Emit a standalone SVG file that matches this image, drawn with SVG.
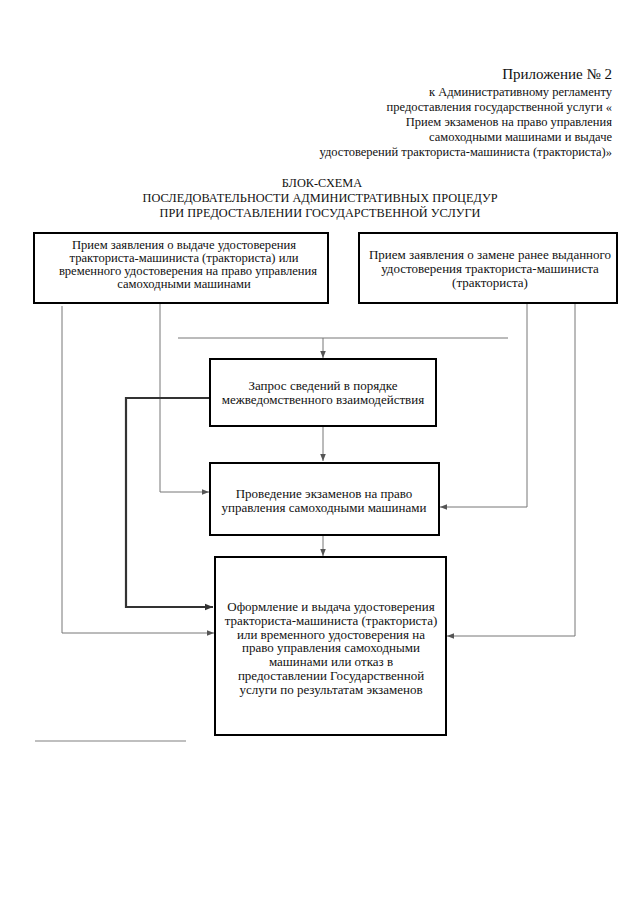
<svg xmlns="http://www.w3.org/2000/svg" width="640" height="905" viewBox="0 0 640 905">
<defs>
<marker id="ah" viewBox="0 0 10 10" refX="10" refY="5" markerWidth="7" markerHeight="7" markerUnits="userSpaceOnUse" orient="auto"><path d="M0,1 L10,5 L0,9 z" fill="#555"/></marker>
<marker id="ahd" viewBox="0 0 10 10" refX="10" refY="5" markerWidth="8" markerHeight="8" markerUnits="userSpaceOnUse" orient="auto"><path d="M0,1 L10,5 L0,9 z" fill="#333"/></marker>
</defs>
<style>
text{font-family:'Liberation Serif','DejaVu Serif',serif;fill:#111}
.hd{font-size:12.5px;text-anchor:end}
.tt{font-size:12.3px;text-anchor:middle}
.bx{font-size:12.6px;text-anchor:middle}
.b13{font-size:13px}
.b5{font-size:13px}
.box{fill:#fff;stroke:#000;stroke-width:2}
.c{fill:none;stroke:#777;stroke-width:1}
.ct{fill:none;stroke:#333;stroke-width:2.2}
</style>
<rect width="640" height="905" fill="#fff"/>
<g id="header">
<text class="hd" x="612" y="79" style="font-size:15px">Приложение № 2</text>
<text class="hd" x="612" y="96">к Административному регламенту</text>
<text class="hd" x="612" y="111">предоставления государственной услуги «</text>
<text class="hd" x="612" y="126">Прием экзаменов на право управления</text>
<text class="hd" x="612" y="141">самоходными машинами и выдаче</text>
<text class="hd" x="612" y="156">удостоверений тракториста-машиниста (тракториста)»</text>
</g>
<g id="title">
<text class="tt" x="322" y="187">БЛОК-СХЕМА</text>
<text class="tt" x="320" y="202">ПОСЛЕДОВАТЕЛЬНОСТИ АДМИНИСТРАТИВНЫХ ПРОЦЕДУР</text>
<text class="tt" x="320" y="217">ПРИ ПРЕДОСТАВЛЕНИИ ГОСУДАРСТВЕННОЙ УСЛУГИ</text>
</g>
<g id="connectors">
<path class="c" d="M178,338 H508"/>
<path class="c" d="M323,338 V358" marker-end="url(#ah)"/>
<path class="c" d="M323,427 V461" marker-end="url(#ah)"/>
<path class="c" d="M323,536 V556" marker-end="url(#ah)"/>
<path class="c" d="M160,304 V492 H209" marker-end="url(#ah)"/>
<path class="c" d="M527,304 V507 H440" marker-end="url(#ah)"/>
<path class="ct" d="M209,398 H126 V607 H213" marker-end="url(#ahd)"/>
<path class="c" d="M62,306 V633 H214" marker-end="url(#ah)"/>
<path class="c" d="M575,304 V636 H447" marker-end="url(#ah)"/>
</g>
<g id="n1">
<rect class="box" x="34" y="233" width="294" height="70"/>
<text class="bx" x="184" y="249">Прием заявления о выдаче удостоверения</text>
<text class="bx" x="184" y="262">тракториста-машиниста (тракториста) или</text>
<text class="bx" x="188" y="275">временного удостоверения на право управления</text>
<text class="bx" x="184" y="288">самоходными машинами</text>
</g>
<g id="n2">
<rect class="box" x="359" y="233" width="258" height="70"/>
<text class="bx b13" x="490" y="259">Прием заявления о замене ранее выданного</text>
<text class="bx b13" x="490" y="273">удостоверения тракториста-машиниста</text>
<text class="bx b13" x="490" y="287">(тракториста)</text>
</g>
<g id="n3">
<rect class="box" x="210" y="359" width="226" height="67"/>
<text class="bx b13" x="323" y="390">Запрос сведений в порядке</text>
<text class="bx b13" x="323" y="404">межведомственного взаимодействия</text>
</g>
<g id="n4">
<rect class="box" x="210" y="463" width="229" height="72"/>
<text class="bx b13" x="324" y="498">Проведение экзаменов на право</text>
<text class="bx b13" x="324" y="512">управления самоходными машинами</text>
</g>
<g id="n5">
<rect class="box" x="215" y="557" width="231" height="178"/>
<text class="bx b5" x="331" y="611">Оформление и выдача удостоверения</text>
<text class="bx b5" x="331" y="624.8">тракториста-машиниста (тракториста)</text>
<text class="bx b5" x="331" y="638.6">или временного удостоверения на</text>
<text class="bx b5" x="331" y="652.4">право управления самоходными</text>
<text class="bx b5" x="331" y="666.2">машинами или отказ в</text>
<text class="bx b5" x="331" y="680">предоставлении Государственной</text>
<text class="bx b5" x="331" y="693.8">услуги по результатам  экзаменов</text>
</g>
<path d="M35,741 H186" stroke="#aaa" stroke-width="1.5"/>
</svg>
